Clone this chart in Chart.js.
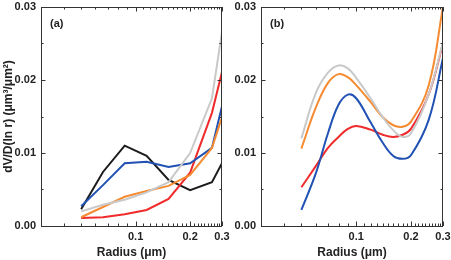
<!DOCTYPE html>
<html>
<head>
<meta charset="utf-8">
<script src="https://cdn.jsdelivr.net/npm/chart.js@4.4.1/dist/chart.umd.min.js"></script>
<style>
  html, body { margin: 0; padding: 0; background: #fff; }
  #wrap { position: relative; width: 451px; height: 260px; overflow: hidden; }
  #ca { position: absolute; left: 0; top: 0; }
  #cb { position: absolute; left: 230px; top: 0; }
</style>
</head>
<body>
<div id="wrap">
  <canvas id="ca" width="230" height="260"></canvas>
  <canvas id="cb" width="221" height="260"></canvas>
</div>
<script>
// ---- Panel (a) data (radius in µm) ----
const radiusA = [0.05, 0.066, 0.087, 0.115, 0.152, 0.2, 0.264, 0.3];
const blackA  = [0.0023, 0.0074, 0.0110, 0.0096, 0.0063, 0.0049, 0.0060, 0.0086];
const blueA   = [0.0027, 0.0056, 0.0086, 0.0088, 0.0081, 0.0086, 0.0107, 0.0164];
const grayA   = [0.0020, 0.0029, 0.0036, 0.0046, 0.0060, 0.0100, 0.0175, 0.0266];
const orangeA = [0.0012, 0.0026, 0.0040, 0.0048, 0.0055, 0.0070, 0.0107, 0.0149];
const redA    = [0.0011, 0.0012, 0.0016, 0.0022, 0.0037, 0.0073, 0.0155, 0.0211];

// ---- Panel (b) data ----
const radiusB = [0.05, 0.06, 0.07, 0.08, 0.09, 0.1, 0.12, 0.14, 0.16, 0.18, 0.2, 0.25, 0.3];
const grayB   = [0.0120, 0.0182, 0.0210, 0.0220, 0.0216, 0.0203, 0.0175, 0.0149, 0.0131, 0.0122, 0.0127, 0.0180, 0.0252];
const orangeB = [0.0106, 0.0162, 0.0196, 0.0208, 0.0204, 0.0193, 0.0170, 0.0149, 0.0138, 0.0136, 0.0143, 0.0192, 0.0300];
const blueB   = [0.0022, 0.0072, 0.0127, 0.0166, 0.0180, 0.0175, 0.0142, 0.0114, 0.0096, 0.0092, 0.0097, 0.0145, 0.0230];
const redB    = [0.0053, 0.0082, 0.0107, 0.0122, 0.0133, 0.0137, 0.0132, 0.0125, 0.0122, 0.0125, 0.0133, 0.0180, 0.0250];

// ---- Axis ticks ----
const xTickLabels = [0.1, 0.2, 0.3];
const yTickLabels = [0, 0.01, 0.02, 0.03];
const xMinorTicks = [0.04, 0.05, 0.06, 0.07, 0.08, 0.09, 0.11, 0.12, 0.13, 0.14, 0.15, 0.16, 0.17, 0.18, 0.19, 0.21, 0.22, 0.23, 0.24, 0.25, 0.26, 0.27, 0.28, 0.29];
const yMinorTicks = [0.005, 0.015, 0.025];

const COLORS = { black: '#1c1c1c', blue: '#2152b3', gray: '#c9c9c9', orange: '#f58b32', red: '#ef2b2b' };
const FONT = 'Liberation Sans, Arial, sans-serif';
const TXT = '#222';

function pts(xs, ys) { return xs.map((x, i) => ({ x: x, y: ys[i] })); }

function ds(xs, ys, color, tension) {
  return { data: pts(xs, ys), borderColor: color, borderWidth: 2, pointRadius: 0,
           tension: tension, fill: false, clip: 0 };
}

const framePlugin = {
  id: 'frame',
  afterDatasetsDraw(chart, args, opts) {
    const ctx = chart.ctx, a = chart.chartArea;
    const xs = chart.scales.x, ys = chart.scales.y;
    ctx.save();
    ctx.strokeStyle = '#333';
    ctx.lineWidth = 1;
    ctx.strokeRect(Math.round(a.left) + 0.5, Math.round(a.top) + 0.5,
                   Math.round(a.right - a.left) - 1, Math.round(a.bottom - a.top));
    ctx.beginPath();
    const xt = (v, len) => {
      const p = Math.round(xs.getPixelForValue(v)) + 0.5;
      ctx.moveTo(p, a.bottom); ctx.lineTo(p, a.bottom - len);
      ctx.moveTo(p, a.top); ctx.lineTo(p, a.top + len);
    };
    const yt = (v, len) => {
      const p = Math.round(ys.getPixelForValue(v)) + 0.5;
      ctx.moveTo(a.left, p); ctx.lineTo(a.left + len, p);
      ctx.moveTo(a.right, p); ctx.lineTo(a.right - len, p);
    };
    xMinorTicks.forEach(v => xt(v, 2.5));
    xTickLabels.forEach(v => xt(v, 4.5));
    yMinorTicks.forEach(v => yt(v, 2.5));
    yTickLabels.forEach(v => yt(v, 4.5));
    ctx.stroke();
    ctx.fillStyle = TXT;
    ctx.font = 'bold 11px ' + FONT;
    ctx.textBaseline = 'middle';
    ctx.textAlign = 'left';
    ctx.fillText(opts.label, a.left + 9, a.top + 17);
    ctx.restore();
  }
};

function makeOptions(label, yAxisWidth, showYTitle, rightPad) {
  return {
    responsive: false,
    animation: false,
    devicePixelRatio: 1,
    layout: { padding: { top: 7, right: rightPad, bottom: 0, left: 0 } },
    plugins: { legend: { display: false }, tooltip: { enabled: false }, frame: { label: label } },
    scales: {
      x: {
        type: 'logarithmic', min: 0.03, max: 0.3,
        afterBuildTicks: s => { s.ticks = xTickLabels.map(v => ({ value: v, major: true })); },
        afterFit: s => { s.height = 34; s.paddingLeft = 0; s.paddingRight = 0; },
        grid: { display: false, drawTicks: false },
        border: { display: false },
        ticks: { autoSkip: false, maxRotation: 0, padding: 4, color: TXT,
                 font: { family: FONT, size: 11, weight: 'bold' },
                 callback: v => String(v) },
        title: { display: true, text: 'Radius (\u03bcm)', color: TXT,
                 font: { family: FONT, size: 12, weight: 'bold' }, padding: { top: 0, bottom: 0 } }
      },
      y: {
        min: 0, max: 0.03,
        afterBuildTicks: s => { s.ticks = yTickLabels.map(v => ({ value: v })); },
        afterFit: s => { s.width = yAxisWidth; s.paddingTop = 0; s.paddingBottom = 0; },
        grid: { display: false, drawTicks: false },
        border: { display: false },
        ticks: { padding: 5, color: TXT, font: { family: FONT, size: 11, weight: 'bold' },
                 callback: v => Number(v).toFixed(2) },
        title: { display: showYTitle, text: 'dV/D(ln r) (\u03bcm\u00b3/\u03bcm\u00b2)', color: TXT,
                 font: { family: FONT, size: 12, weight: 'bold' }, padding: { top: 1, bottom: 0 } }
      }
    }
  };
}

new Chart(document.getElementById('ca'), {
  type: 'line',
  data: { datasets: [
    ds(radiusA, grayA, COLORS.gray, 0),
    ds(radiusA, orangeA, COLORS.orange, 0),
    ds(radiusA, blueA, COLORS.blue, 0),
    ds(radiusA, redA, COLORS.red, 0),
    ds(radiusA, blackA, COLORS.black, 0)
  ] },
  options: makeOptions('(a)', 41, true, 8),
  plugins: [framePlugin]
});

new Chart(document.getElementById('cb'), {
  type: 'line',
  data: { datasets: [
    ds(radiusB, grayB, COLORS.gray, 0.4),
    ds(radiusB, orangeB, COLORS.orange, 0.4),
    ds(radiusB, blueB, COLORS.blue, 0.4),
    ds(radiusB, redB, COLORS.red, 0.4)
  ] },
  options: makeOptions('(b)', 31, false, 8),
  plugins: [framePlugin]
});
</script>
</body>
</html>
